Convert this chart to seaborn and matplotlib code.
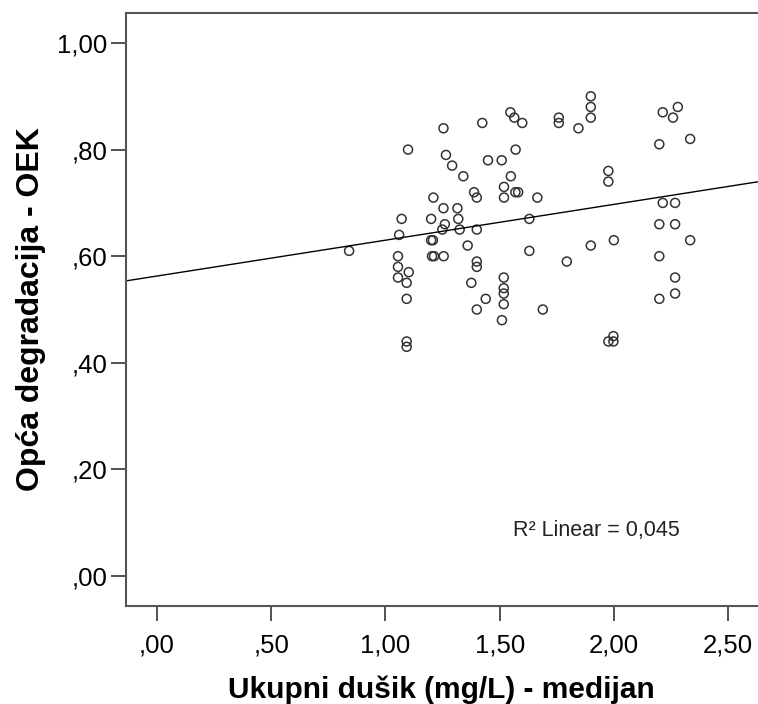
import matplotlib
matplotlib.use("Agg")
import matplotlib.pyplot as plt
import seaborn as sns
import pandas as pd

# ---- data ----
ukupni_dusik = [
    1.254, 1.424, 1.547, 1.564, 1.599, 1.099, 1.265, 1.292, 1.449, 1.509,
    1.570, 1.341, 1.549, 1.388, 1.400, 1.519, 1.519, 1.569, 1.581, 1.210,
    1.254, 1.315, 1.071, 1.200, 1.319, 1.260, 1.249, 1.325, 1.400, 1.630,
    1.060, 0.841, 1.208, 1.200, 1.360, 1.055, 1.204, 1.213, 1.255, 1.630,
    1.400, 1.400, 1.055, 1.102, 1.055, 1.093, 1.376, 1.518, 1.518, 1.518,
    1.093, 1.439, 1.518, 1.400, 1.510, 1.093, 1.093,
    1.899, 1.899, 1.899, 1.759, 1.759, 1.845, 2.214, 2.280, 2.259, 2.199,
    2.334, 1.976, 1.976, 1.665, 2.214, 2.268, 2.199, 2.268, 1.794, 1.899,
    2.000, 2.334, 2.199, 2.268, 2.268, 2.199, 1.689, 1.976, 1.998, 1.998,
]
opca_degradacija = [
    0.840, 0.850, 0.870, 0.860, 0.850, 0.800, 0.790, 0.770, 0.780, 0.780,
    0.800, 0.750, 0.750, 0.720, 0.710, 0.730, 0.710, 0.720, 0.720, 0.710,
    0.690, 0.690, 0.670, 0.670, 0.670, 0.660, 0.650, 0.650, 0.650, 0.670,
    0.640, 0.610, 0.630, 0.630, 0.620, 0.600, 0.600, 0.600, 0.600, 0.610,
    0.590, 0.580, 0.580, 0.570, 0.560, 0.550, 0.550, 0.560, 0.540, 0.530,
    0.520, 0.520, 0.510, 0.500, 0.480, 0.440, 0.430,
    0.900, 0.880, 0.860, 0.860, 0.850, 0.840, 0.870, 0.880, 0.860, 0.810,
    0.820, 0.760, 0.740, 0.710, 0.700, 0.700, 0.660, 0.660, 0.590, 0.620,
    0.630, 0.630, 0.600, 0.560, 0.530, 0.520, 0.500, 0.440, 0.450, 0.440,
]
x_ticks = [0.0, 0.5, 1.0, 1.5, 2.0, 2.5]
x_tick_labels = [",00", ",50", "1,00", "1,50", "2,00", "2,50"]
y_ticks = [0.0, 0.2, 0.4, 0.6, 0.8, 1.0]
y_tick_labels = [",00", ",20", ",40", ",60", ",80", "1,00"]
x_title = "Ukupni dušik (mg/L) - medijan"
y_title = "Opća degradacija - OEK"
r2_text = "R² Linear = 0,045"

df = pd.DataFrame({"x": ukupni_dusik, "y": opca_degradacija})

sns.set_style("ticks")
plt.rcParams["font.family"] = ["Liberation Sans", "DejaVu Sans"]
plt.rcParams["text.color"] = "black"
plt.rcParams["axes.labelcolor"] = "black"

fig = plt.figure(figsize=(7.58, 7.04), dpi=100)
ax = fig.add_axes([125.7 / 758, 98 / 704, (758 - 125.7) / 758, 593 / 704])

xlim = (-0.137, 2.631)
ylim = (-0.0563, 1.0563)
ax.set_xlim(*xlim)
ax.set_ylim(*ylim)

sns.scatterplot(data=df, x="x", y="y", ax=ax, s=42, marker="o",
                facecolors="none", edgecolors="#333333", linewidths=1.1,
                legend=False)
sns.regplot(data=df, x="x", y="y", ax=ax, scatter=False, ci=None,
            truncate=False, line_kws={"color": "black", "lw": 1.0})
ax.set_xlim(*xlim)
ax.set_ylim(*ylim)

ax.set_xticks(x_ticks)
ax.set_xticklabels(x_tick_labels)
ax.set_yticks(y_ticks)
ax.set_yticklabels(y_tick_labels)

ax.tick_params(axis="x", direction="out", bottom=True, length=10.5,
               width=1.3, color="#444444", pad=9,
               labelsize=18.5, labelcolor="black")
ax.tick_params(axis="y", direction="out", left=True, length=11,
               width=1.3, color="#444444", pad=2,
               labelsize=18.5, labelcolor="black")

ax.set_xlabel(x_title, fontsize=21.5, fontweight="bold", labelpad=13,
              color="black")
ax.set_ylabel(y_title, fontsize=23, fontweight="bold", labelpad=8,
              color="black")

for side in ["left", "top", "bottom"]:
    ax.spines[side].set_visible(True)
    ax.spines[side].set_color("#555555")
    ax.spines[side].set_linewidth(1.5)
ax.spines["right"].set_visible(False)

ax.text(0.6125, 0.128, r2_text, transform=ax.transAxes, fontsize=15.5,
        va="center", ha="left", color="#222222")

fig.savefig("out.png", dpi=100)
